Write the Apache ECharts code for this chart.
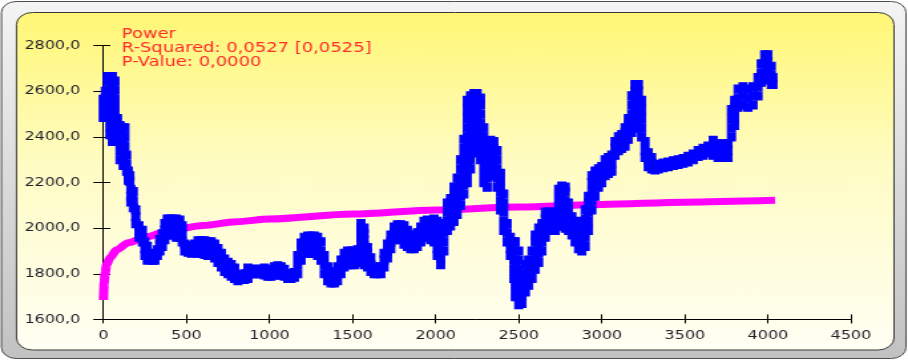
<!DOCTYPE html>
<html>
<head>
<meta charset="utf-8">
<script src="https://cdn.jsdelivr.net/npm/echarts@6/dist/echarts.min.js"></script>
<style>
  html, body { margin: 0; padding: 0; background: #ffffff; overflow: hidden; }
  #chart { width: 683px; height: 360px; transform: scaleX(1.32943); transform-origin: 0 0; }
</style>
</head>
<body>
<div id="chart"></div>
<script>
// Observations: [x, [y values recorded at that x]]
const seg0To1000 = [
  [0, [2485, 2525, 2565]],
  [12, [2485, 2525, 2565, 2600]],
  [25, [2485, 2525, 2565, 2605, 2645, 2665]],
  [40, [2410, 2445, 2485, 2525, 2565, 2605, 2645, 2665]],
  [55, [2380, 2405, 2445, 2485, 2525, 2565, 2605, 2645, 2665]],
  [70, [2380, 2400, 2440, 2485, 2525, 2565, 2605, 2645]],
  [85, [2380, 2405, 2445, 2480]],
  [100, [2300, 2340, 2380, 2410, 2450]],
  [115, [2370, 2400, 2440]],
  [120, [2275, 2300, 2340]],
  [130, [2360, 2400, 2440]],
  [140, [2250, 2280, 2320]],
  [150, [2210, 2230, 2250]],
  [160, [2205, 2230]],
  [165, [2115, 2140, 2170]],
  [180, [2090, 2120, 2160]],
  [195, [2020, 2050, 2080]],
  [215, [1960, 1985, 2010]],
  [235, [1940, 1960, 1990]],
  [250, [1880, 1910, 1940]],
  [265, [1860, 1890, 1920]],
  [280, [1865, 1890]],
  [295, [1860, 1880]],
  [310, [1860, 1885]],
  [325, [1880, 1905]],
  [340, [1900, 1930, 1950]],
  [355, [1920, 1950, 1975]],
  [370, [1950, 1990, 2020]],
  [385, [1980, 2010, 2040]],
  [400, [1970, 2005, 2040]],
  [420, [1970, 2005, 2040]],
  [440, [1960, 2000, 2040]],
  [460, [1960, 2000, 2035]],
  [475, [1940, 1975, 2010]],
  [490, [1900, 1930]],
  [510, [1895, 1925]],
  [530, [1890, 1920]],
  [550, [1900, 1930]],
  [570, [1890, 1925, 1945]],
  [590, [1890, 1920, 1945]],
  [610, [1885, 1915, 1945]],
  [630, [1880, 1910, 1940]],
  [650, [1880, 1910, 1940]],
  [670, [1870, 1900, 1930]],
  [690, [1850, 1880, 1910]],
  [710, [1830, 1860, 1890]],
  [730, [1810, 1840, 1865]],
  [750, [1800, 1825, 1850]],
  [770, [1790, 1815, 1840]],
  [790, [1780, 1800, 1825]],
  [810, [1770, 1790]],
  [830, [1775, 1795]],
  [850, [1775, 1800]],
  [870, [1780, 1810, 1825]],
  [890, [1800, 1820]],
  [910, [1800, 1820]],
  [930, [1800, 1820]],
  [950, [1800, 1820]],
  [970, [1795, 1825]],
  [990, [1790, 1820]]
];

const seg1000To2000 = [
  [1010, [1790, 1815]],
  [1030, [1795, 1830]],
  [1050, [1795, 1835]],
  [1070, [1795, 1830]],
  [1090, [1790, 1820]],
  [1110, [1780, 1800]],
  [1130, [1780, 1800]],
  [1150, [1785, 1805]],
  [1170, [1800, 1840, 1880]],
  [1190, [1860, 1900, 1935]],
  [1210, [1900, 1935, 1960]],
  [1230, [1890, 1930, 1965]],
  [1250, [1890, 1930, 1965]],
  [1270, [1890, 1930, 1965]],
  [1290, [1880, 1920, 1960]],
  [1310, [1860, 1900, 1940]],
  [1330, [1800, 1840, 1880]],
  [1350, [1770, 1800, 1830]],
  [1370, [1760, 1790]],
  [1390, [1760, 1790, 1810]],
  [1410, [1770, 1800, 1830]],
  [1430, [1800, 1830, 1860]],
  [1450, [1830, 1860, 1890]],
  [1470, [1840, 1870, 1900]],
  [1490, [1840, 1870, 1900]],
  [1510, [1840, 1870, 1900]],
  [1530, [1850, 1880, 1905]],
  [1550, [1850, 1880, 1910, 1940, 1960, 1980, 2000, 2020]],
  [1570, [1840, 1870, 1900, 1925, 1950, 1975, 2000]],
  [1590, [1830, 1860, 1890, 1915]],
  [1610, [1810, 1840, 1870]],
  [1630, [1800, 1830]],
  [1650, [1800, 1825]],
  [1670, [1800, 1830]],
  [1690, [1830, 1860, 1890]],
  [1710, [1870, 1900, 1930]],
  [1730, [1910, 1940, 1970]],
  [1750, [1950, 1980, 2005]],
  [1770, [1960, 1990, 2015]],
  [1790, [1950, 1985, 2015]],
  [1810, [1930, 1970, 2010]],
  [1830, [1920, 1955, 1990]],
  [1850, [1910, 1940, 1970]],
  [1870, [1910, 1940]],
  [1890, [1920, 1950, 1980]],
  [1910, [1940, 1975, 2005]],
  [1930, [1960, 1995, 2030]],
  [1950, [1960, 2000, 2035]],
  [1970, [1950, 1990, 2030]],
  [1990, [1940, 1975, 2010, 2040]]
];

const seg2000To3000 = [
  [2010, [1880, 1910, 1950, 1990, 2030]],
  [2030, [1840, 1870, 1900, 1940, 1980]],
  [2050, [1900, 1940, 1980, 2020]],
  [2070, [1990, 2030, 2070, 2110]],
  [2090, [2010, 2050, 2090, 2130]],
  [2110, [2030, 2070, 2110, 2150, 2180]],
  [2130, [2060, 2100, 2140, 2180, 2220]],
  [2150, [2100, 2140, 2180, 2220, 2260, 2300]],
  [2170, [2150, 2190, 2230, 2270, 2310, 2350, 2390]],
  [2190, [2200, 2240, 2280, 2320, 2360, 2400, 2440, 2480, 2520, 2560]],
  [2210, [2260, 2300, 2340, 2380, 2420, 2460, 2500, 2540, 2580]],
  [2230, [2330, 2370, 2410, 2450, 2490, 2530, 2570, 2590]],
  [2250, [2360, 2400, 2440, 2480, 2520, 2560, 2590]],
  [2270, [2300, 2340, 2380, 2420, 2460, 2500, 2540, 2570]],
  [2290, [2200, 2240, 2280, 2320, 2360, 2400, 2440]],
  [2310, [2180, 2220, 2260, 2300, 2340, 2380]],
  [2330, [2230, 2270, 2310, 2350, 2385]],
  [2350, [2230, 2270, 2310, 2350, 2380]],
  [2370, [2180, 2220, 2260, 2300, 2340]],
  [2390, [2080, 2120, 2160, 2200, 2240]],
  [2410, [1990, 2030, 2070, 2110, 2150]],
  [2430, [1940, 1980, 2020]],
  [2450, [1880, 1910, 1940, 1960]],
  [2470, [1780, 1820, 1860, 1900, 1940]],
  [2480, [1700, 1740, 1780, 1820, 1860, 1900, 1940]],
  [2500, [1665, 1700, 1740, 1780, 1820, 1860, 1900]],
  [2520, [1670, 1710, 1750, 1790]],
  [2540, [1720, 1760, 1800, 1840]],
  [2560, [1750, 1790, 1830, 1860]],
  [2580, [1780, 1820, 1860, 1900]],
  [2600, [1820, 1860, 1900, 1940, 1970]],
  [2620, [1850, 1890, 1930, 1970, 2000]],
  [2640, [1900, 1940, 1980, 2020]],
  [2660, [1960, 2000, 2040, 2070]],
  [2680, [1990, 2030, 2070]],
  [2700, [1990, 2030, 2070]],
  [2720, [1990, 2020, 2050]],
  [2740, [2010, 2050, 2090, 2130, 2170]],
  [2760, [2010, 2050, 2090, 2130, 2170, 2185]],
  [2780, [2000, 2040, 2080, 2120, 2160, 2180]],
  [2800, [1990, 2030, 2070, 2110]],
  [2820, [1970, 2010, 2050]],
  [2840, [1940, 1980, 2020]],
  [2860, [1910, 1950, 1990, 2030]],
  [2880, [1900, 1940, 1980, 2020]],
  [2900, [1920, 1960, 2000, 2040, 2080]],
  [2920, [1990, 2030, 2070, 2110, 2140]],
  [2940, [2080, 2120, 2160, 2200, 2230]],
  [2960, [2140, 2180, 2220, 2250]],
  [2980, [2180, 2220, 2260]],
  [3000, [2200, 2240, 2270]]
];

const seg3000To4030 = [
  [3020, [2230, 2260, 2300]],
  [3040, [2240, 2275, 2310]],
  [3060, [2250, 2285, 2320]],
  [3080, [2320, 2350, 2380]],
  [3100, [2340, 2370, 2400]],
  [3120, [2350, 2380, 2410]],
  [3140, [2360, 2390, 2420, 2440]],
  [3160, [2390, 2420, 2450, 2480]],
  [3180, [2420, 2460, 2500, 2540, 2580]],
  [3200, [2440, 2480, 2520, 2560, 2600, 2630]],
  [3220, [2440, 2480, 2520, 2560, 2600, 2630]],
  [3240, [2400, 2440, 2480, 2520, 2560]],
  [3260, [2310, 2340, 2380]],
  [3280, [2270, 2300, 2330]],
  [3300, [2260, 2285, 2310]],
  [3320, [2255, 2275]],
  [3340, [2260, 2280]],
  [3370, [2265, 2285]],
  [3400, [2270, 2290]],
  [3430, [2275, 2295]],
  [3460, [2280, 2300]],
  [3490, [2285, 2305]],
  [3520, [2290, 2315]],
  [3550, [2300, 2325]],
  [3580, [2315, 2340]],
  [3610, [2320, 2350]],
  [3640, [2330, 2360]],
  [3670, [2320, 2350, 2385]],
  [3700, [2310, 2340, 2370]],
  [3730, [2310, 2340, 2370]],
  [3760, [2310, 2340, 2370]],
  [3780, [2400, 2440, 2480, 2520]],
  [3800, [2450, 2490, 2530, 2560]],
  [3820, [2530, 2570, 2610]],
  [3850, [2540, 2580, 2620]],
  [3880, [2530, 2570, 2610]],
  [3910, [2540, 2580, 2620]],
  [3940, [2580, 2620, 2660]],
  [3960, [2640, 2680, 2720]],
  [3980, [2680, 2720, 2760]],
  [4000, [2650, 2690, 2730, 2760]],
  [4020, [2630, 2670, 2710]],
  [4030, [2630, 2660]]
];

// Power regression curve
const fitX = [1, 5, 10, 20, 40, 80, 150, 250, 400, 600, 800, 1000, 1500, 2000, 2500, 3000, 3500, 4043];
const fitY = [1685, 1760, 1800, 1840, 1870, 1905, 1936, 1960, 1990, 2012, 2028, 2040, 2062, 2080, 2093, 2104, 2114, 2122];

const xTicks = [0, 500, 1000, 1500, 2000, 2500, 3000, 3500, 4000, 4500];
const yTicks = [1600, 1800, 2000, 2200, 2400, 2600, 2800];

const fitLabel = ['Power', 'R-Squared: 0,0527 [0,0525]', 'P-Value: 0,0000'];

// ---- drawing ----
const S = 908 / 683;          // horizontal stretch applied to the canvas by CSS
const ux = v => v / S;        // screen x -> layout x

const points = [];
[seg0To1000, seg1000To2000, seg2000To3000, seg3000To4030].forEach(seg => {
  seg.forEach(([x, ys]) => ys.forEach(y => points.push([x, y])));
});
const fitData = fitX.map((x, i) => [x, fitY[i]]);

const gridBox = { left: ux(103.3), right: 683 - ux(851), top: 45.7, bottom: 360 - 319.4 };
const labelFont = { color: '#1f1f2a', fontSize: 12, fontFamily: 'DejaVu Sans' };
const xStep = xTicks[1] - xTicks[0];
const yStep = yTicks[1] - yTicks[0];

const chart = echarts.init(document.getElementById('chart'), null, { renderer: 'canvas' });
chart.setOption({
  animation: false,
  backgroundColor: 'transparent',
  graphic: [
    {
      type: 'rect', z: -20, silent: true,
      shape: { x: ux(1.5), y: 1.5, width: ux(906) - ux(1.5), height: 357, r: 11 },
      style: {
        fill: new echarts.graphic.LinearGradient(0, 0, 0, 1, [
          { offset: 0, color: '#f4f4f4' }, { offset: 1, color: '#c2c2c2' }
        ]),
        stroke: '#4d4d4d', lineWidth: 1
      }
    },
    {
      type: 'rect', z: -19, silent: true,
      shape: { x: ux(16.5), y: 12.5, width: ux(894) - ux(16.5), height: 337.5, r: 12 },
      style: {
        fill: new echarts.graphic.LinearGradient(0, 0, 0, 1, [
          { offset: 0, color: '#fff774' },
          { offset: 0.45, color: '#fffcc4' },
          { offset: 1, color: '#fffff4' }
        ]),
        stroke: '#3a3a3a', lineWidth: 1
      }
    },
    {
      type: 'text', z: 10, silent: true,
      left: ux(121.7), top: 27,
      style: {
        text: fitLabel.join('\n'),
        fill: '#ff2a2a', fontSize: 13.5, lineHeight: 14, fontFamily: 'DejaVu Sans'
      }
    }
  ],
  grid: [Object.assign({}, gridBox), Object.assign({}, gridBox)],
  xAxis: [
    {
      type: 'value', gridIndex: 0, min: xTicks[0], max: xTicks[xTicks.length - 1], interval: xStep,
      axisLine: { lineStyle: { color: '#000', width: 1 } },
      axisTick: { length: 4, lineStyle: { color: '#000' } },
      axisLabel: Object.assign({ margin: 10, formatter: v => String(v) }, labelFont),
      splitLine: { show: false }
    },
    {
      type: 'value', gridIndex: 1, min: xTicks[0], max: xTicks[xTicks.length - 1], interval: xStep,
      axisLine: { show: false },
      axisTick: { inside: true, length: 5, lineStyle: { color: '#000' } },
      axisLabel: { show: false }, splitLine: { show: false }
    }
  ],
  yAxis: [
    {
      type: 'value', gridIndex: 0, min: yTicks[0], max: yTicks[yTicks.length - 1], interval: yStep,
      axisLine: { show: true, lineStyle: { color: '#000', width: 1 } },
      axisTick: { show: true, length: ux(10), lineStyle: { color: '#000' } },
      axisLabel: Object.assign({ margin: ux(23), formatter: v => v.toFixed(1).replace('.', ',') }, labelFont),
      splitLine: { show: false }
    },
    {
      type: 'value', gridIndex: 1, min: yTicks[0], max: yTicks[yTicks.length - 1], interval: yStep,
      axisLine: { show: false },
      axisTick: { show: true, inside: true, length: ux(7), lineStyle: { color: '#000' } },
      axisLabel: { show: false }, splitLine: { show: false }
    }
  ],
  series: [
    {
      type: 'line', name: 'Power', xAxisIndex: 0, yAxisIndex: 0,
      data: fitData, smooth: 0.3, smoothMonotone: 'x', showSymbol: false,
      lineStyle: { color: '#ff00ff', width: 7 }, z: 2
    },
    {
      type: 'scatter', name: 'Observed', xAxisIndex: 0, yAxisIndex: 0,
      data: points, symbol: 'rect', symbolSize: [6, 8],
      itemStyle: { color: '#0000ff', opacity: 1, borderColor: '#0000ff', borderWidth: 1 }, z: 3
    }
  ]
});
</script>
</body>
</html>
